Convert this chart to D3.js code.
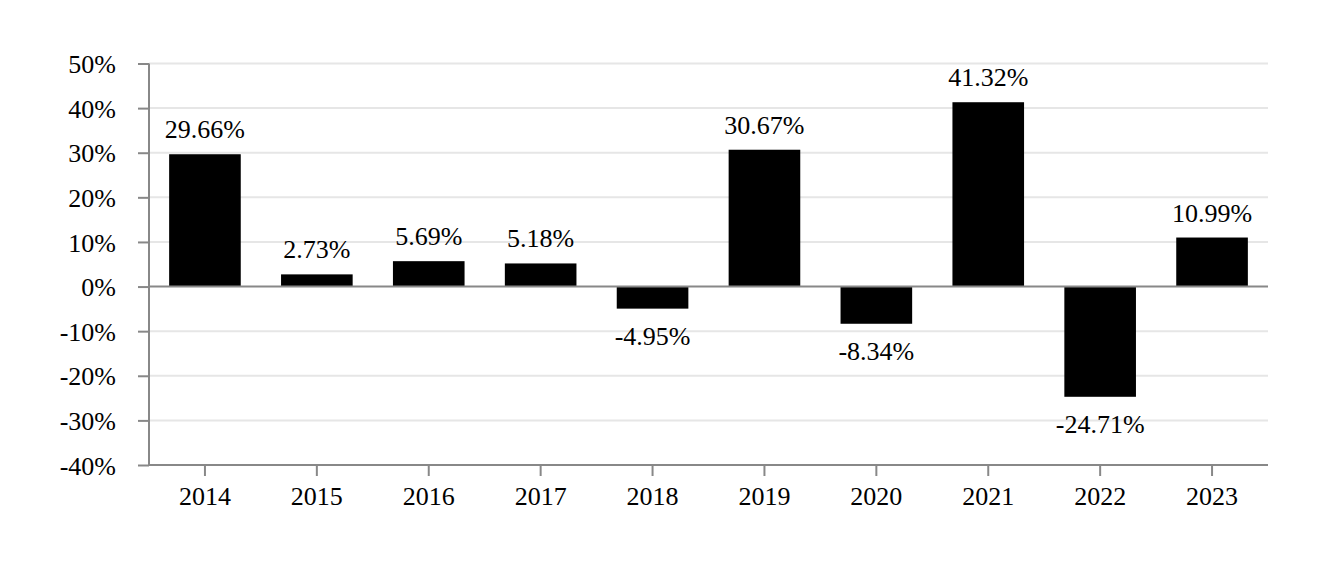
<!DOCTYPE html>
<html><head><meta charset="utf-8">
<script src="https://cdn.jsdelivr.net/npm/d3@7"></script>
<style>body{margin:0;background:#fff}svg{display:block}</style>
</head><body>
<svg id="c" width="1332" height="576"></svg>
<script>
const years = ["2014","2015","2016","2017","2018","2019","2020","2021","2022","2023"];
const returns = [29.66, 2.73, 5.69, 5.18, -4.95, 30.67, -8.34, 41.32, -24.71, 10.99];
const yTicks = [50, 40, 30, 20, 10, 0, -10, -20, -30, -40];

const svg = d3.select("#c");
const pLeft = 149, pRight = 1268, pTop = 63.5, pBottom = 465;
const font = "'Liberation Serif','Times New Roman',serif";
const fs = 26;

const x = d3.scaleBand().domain(years).range([pLeft, pRight]).paddingInner(0.36).paddingOuter(0.18);
const y = d3.scaleLinear().domain([-40, 50]).range([pBottom, pTop]);

// gridlines
svg.append("g").selectAll("line").data(yTicks.filter(d => d !== -40 && d !== 0)).join("line")
  .attr("x1", pLeft).attr("x2", pRight)
  .attr("y1", d => y(d)).attr("y2", d => y(d))
  .attr("stroke", "#e6e6e6").attr("stroke-width", 2);

// bars
svg.append("g").selectAll("rect").data(returns).join("rect")
  .attr("x", (d, i) => x(years[i]))
  .attr("width", x.bandwidth())
  .attr("y", d => y(Math.max(0, d)))
  .attr("height", d => Math.abs(y(d) - y(0)))
  .attr("fill", "#000");

// zero line
svg.append("line").attr("x1", pLeft).attr("x2", pRight)
  .attr("y1", y(0)).attr("y2", y(0)).attr("stroke", "#888").attr("stroke-width", 2);

// y axis
const yAxis = svg.append("g").attr("transform", `translate(${pLeft},0)`)
  .call(d3.axisLeft(y).tickValues(yTicks).tickFormat(d => d + "%").tickSize(11).tickPadding(22));
yAxis.select(".domain").attr("stroke", "#888").attr("stroke-width", 2).attr("d", `M0,${pTop}V${pBottom}`);
yAxis.selectAll(".tick line").attr("stroke", "#888").attr("stroke-width", 2);
yAxis.selectAll("text").attr("font-family", font).attr("font-size", fs).attr("fill", "#000").attr("dy", "0.35em");

// x axis
const xAxis = svg.append("g").attr("transform", `translate(0,${pBottom})`)
  .call(d3.axisBottom(x).tickSize(11).tickPadding(11));
xAxis.select(".domain").attr("stroke", "#888").attr("stroke-width", 2).attr("d", `M${pLeft},0H${pRight}`);
xAxis.selectAll(".tick line").attr("stroke", "#888").attr("stroke-width", 2);
xAxis.selectAll("text").attr("font-family", font).attr("font-size", fs).attr("fill", "#000")
  .attr("y", 40).attr("dy", 0);

// value labels
svg.append("g").selectAll("text").data(returns).join("text")
  .attr("x", (d, i) => x(years[i]) + x.bandwidth() / 2)
  .attr("y", d => d >= 0 ? y(d) - 16 : y(d) + 36)
  .attr("text-anchor", "middle")
  .attr("font-family", font).attr("font-size", fs).attr("fill", "#000")
  .text(d => d.toFixed(2) + "%");
</script>
</body></html>
